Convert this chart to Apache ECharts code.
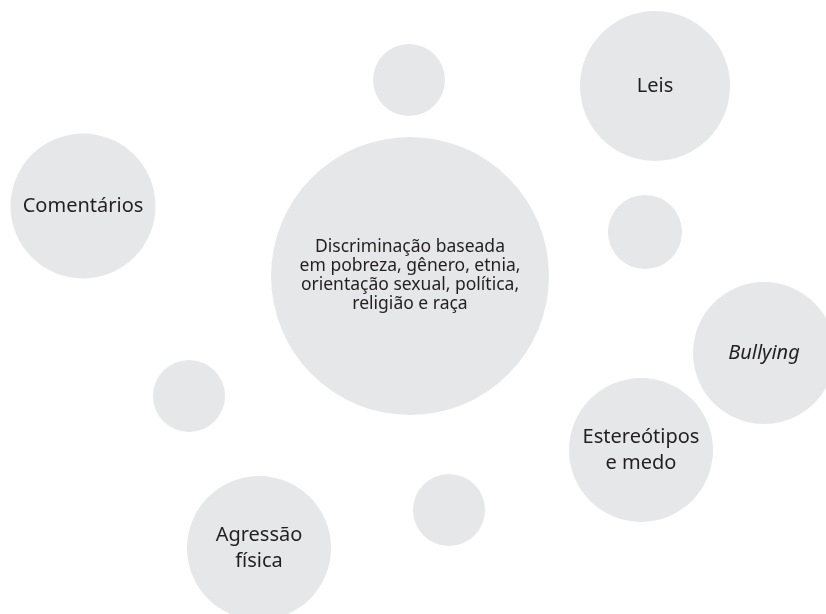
<!DOCTYPE html>
<html>
<head>
<meta charset="utf-8">
<script src="https://cdn.jsdelivr.net/npm/echarts@6/dist/echarts.min.js"></script>
<style>
  html, body { margin: 0; padding: 0; background: #fff; }
  #chart { width: 826px; height: 614px; }
</style>
</head>
<body>
<div id="chart"></div>
<script>
  // bubble labels (empty = no text)
  var labels = [
    'Discriminação baseada\nem pobreza, gênero, etnia,\norientação sexual, política,\nreligião e raça',
    'Comentários',
    '',
    'Leis',
    '',
    'Bullying',
    'Estereótipos\ne medo',
    '',
    '',
    'Agressão\nfísica'
  ];
  var xValues = [410, 83, 409, 655, 645, 764, 641, 449, 189, 259];
  var yValues = [276, 206, 80, 86, 232, 353, 450, 510, 396, 548];
  var diameters = [278, 145, 72, 150, 74, 142, 144, 72, 72, 144];
  var italicLabels = ['Bullying'];

  var chart = echarts.init(document.getElementById('chart'));

  var points = labels.map(function (name, i) {
    var item = {
      name: name,
      value: [xValues[i], yValues[i], diameters[i]]
    };
    if (i === 0) {
      // central bubble has a smaller, tighter label
      item.label = { fontSize: 17.5, lineHeight: 19 };
    }
    if (italicLabels.indexOf(name) >= 0) {
      item.label = { fontStyle: 'italic' };
    }
    return item;
  });

  chart.setOption({
    animation: false,
    grid: { left: 0, right: 0, top: 0, bottom: 0 },
    xAxis: { type: 'value', min: 0, max: 826, show: false },
    yAxis: { type: 'value', min: 0, max: 614, inverse: true, show: false },
    series: [
      {
        type: 'scatter',
        data: points,
        symbolSize: function (val) { return val[2]; },
        itemStyle: { color: '#e6e7e8', opacity: 1 },
        label: {
          show: true,
          position: 'inside',
          formatter: '{b}',
          color: '#231f20',
          fontFamily: 'Noto Sans',
          fontSize: 20,
          lineHeight: 26,
          align: 'center'
        },
        emphasis: { disabled: true }
      }
    ]
  });
</script>
</body>
</html>
